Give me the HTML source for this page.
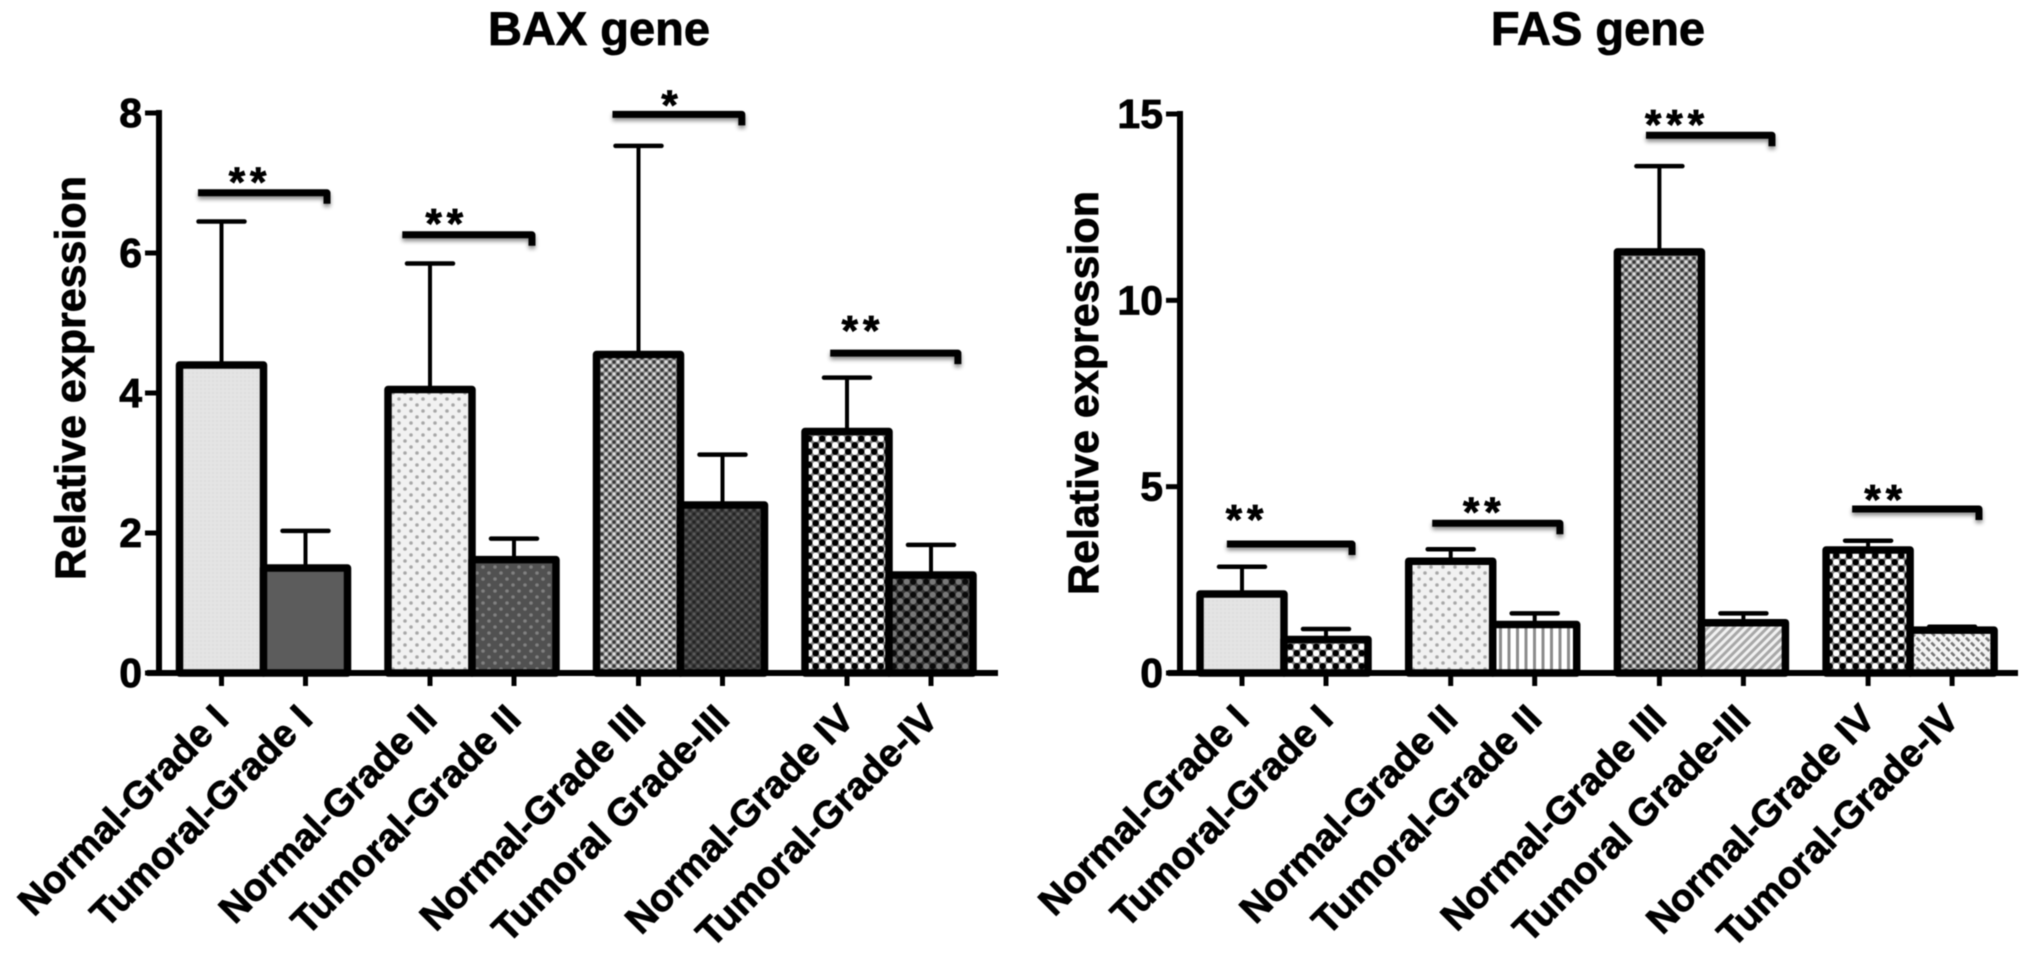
<!DOCTYPE html>
<html>
<head>
<meta charset="utf-8">
<title>BAX and FAS gene expression</title>
<style>
html,body{margin:0;padding:0;background:#fff;width:2031px;height:960px;overflow:hidden}
svg{display:block;filter:blur(0.6px)}
text{font-family:"Liberation Sans",sans-serif;font-weight:bold;fill:#000;stroke:#000;stroke-width:.8px}
.bracket{filter:drop-shadow(0 3px 2px rgba(0,0,0,.45))}
</style>
</head>
<body>
<svg id="figure" width="2031" height="960" viewBox="0 0 2031 960" xmlns="http://www.w3.org/2000/svg">
<defs>
<pattern id="p-plain-light" width="4" height="4" patternUnits="userSpaceOnUse"><rect width="4" height="4" fill="#e4e4e4"/><rect width="2" height="2" fill="#dedede"/></pattern>
<pattern id="p-plain-dark" width="4" height="4" patternUnits="userSpaceOnUse"><rect width="4" height="4" fill="#5c5c5c"/></pattern>
<pattern id="p-dots-light" width="12" height="12" patternUnits="userSpaceOnUse"><rect width="12" height="12" fill="#f1f1f1"/><circle cx="3" cy="3" r="1.8" fill="#a8a8a8"/><circle cx="9" cy="9" r="1.8" fill="#a8a8a8"/></pattern>
<pattern id="p-dots-dark" width="12" height="12" patternUnits="userSpaceOnUse"><rect width="12" height="12" fill="#515151"/><circle cx="3" cy="3" r="1.8" fill="#808080"/><circle cx="9" cy="9" r="1.8" fill="#808080"/></pattern>
<pattern id="p-check-mid" width="8" height="8" patternUnits="userSpaceOnUse"><rect width="8" height="8" fill="#8a8a8a"/><circle cx="2" cy="2" r="1.6" fill="#dcdcdc"/><circle cx="6" cy="6" r="1.6" fill="#dcdcdc"/><circle cx="6" cy="2" r="1.6" fill="#333"/><circle cx="2" cy="6" r="1.6" fill="#333"/></pattern>
<pattern id="p-check-dark" width="8" height="8" patternUnits="userSpaceOnUse"><rect width="8" height="8" fill="#3a3a3a"/><circle cx="2" cy="2" r="1.5" fill="#5a5a5a"/><circle cx="6" cy="6" r="1.5" fill="#5a5a5a"/><circle cx="6" cy="2" r="1.5" fill="#222"/><circle cx="2" cy="6" r="1.5" fill="#222"/></pattern>
<pattern id="p-check-coarse" width="13" height="13" patternUnits="userSpaceOnUse"><rect width="13" height="13" fill="#808080"/><circle cx="3.2" cy="3.2" r="3.2" fill="#fff"/><circle cx="9.7" cy="9.7" r="3.2" fill="#fff"/><circle cx="9.7" cy="3.2" r="3.2" fill="#000"/><circle cx="3.2" cy="9.7" r="3.2" fill="#000"/></pattern>
<pattern id="p-check-coarse-dark" width="13" height="13" patternUnits="userSpaceOnUse"><rect width="13" height="13" fill="#3a3a3a"/><circle cx="3.2" cy="3.2" r="3" fill="#787878"/><circle cx="9.7" cy="9.7" r="3" fill="#787878"/><circle cx="9.7" cy="3.2" r="3" fill="#0a0a0a"/><circle cx="3.2" cy="9.7" r="3" fill="#0a0a0a"/></pattern>
<pattern id="p-vstripes" width="8.5" height="8" patternUnits="userSpaceOnUse"><rect width="8.5" height="8" fill="#fff"/><rect x="3" width="3" height="8" fill="#8c8c8c"/></pattern>
<pattern id="p-diag" width="6" height="6" patternUnits="userSpaceOnUse" patternTransform="rotate(45)"><rect width="6" height="6" fill="#f0f0f0"/><rect width="3" height="6" fill="#a8a8a8"/></pattern>
<pattern id="p-diag-dash" width="7" height="7" patternUnits="userSpaceOnUse" patternTransform="rotate(-45)"><rect width="7" height="7" fill="#f4f4f4"/><rect width="2.6" height="5" fill="#777"/></pattern>
</defs>
<g id="chart-bax"></g>
<g id="chart-fas"></g>
</svg>
<script>
const categories = ['Normal-Grade I','Tumoral-Grade I','Normal-Grade II','Tumoral-Grade II','Normal-Grade III','Tumoral Grade-III','Normal-Grade IV','Tumoral-Grade-IV'];

const baxMeans = [4.4,1.5,4.05,1.62,4.55,2.4,3.45,1.4];
const baxErrorTops = [6.45,2.03,5.85,1.92,7.53,3.12,4.22,1.83];
const baxTicks = [0,2,4,6,8];
const baxSigLabels = ['**','**','*','**'];
const baxSigLevels = [6.86,6.26,7.98,4.57];
const baxSigStarLevels = [7.09,6.5,8.19,4.97];

const fasMeans = [2.12,0.9,3.0,1.3,11.3,1.35,3.3,1.15];
const fasErrorTops = [2.85,1.18,3.32,1.6,13.6,1.6,3.55,1.24];
const fasTicks = [0,5,10,15];
const fasSigLabels = ['**','**','***','**'];
const fasSigLevels = [3.46,4.02,14.43,4.4];
const fasSigStarLevels = [4.27,4.47,14.86,4.8];

const NS = 'http://www.w3.org/2000/svg';
function make(parent, tag, attrs, text){
  const el = document.createElementNS(NS, tag);
  for (const k in attrs) el.setAttribute(k, attrs[k]);
  if (text !== undefined) el.textContent = text;
  parent.appendChild(el);
  return el;
}

function drawChart(o){
  const root = document.getElementById(o.rootId);
  const y = v => o.y0 - v * (o.y0 - o.yTop) / o.yMax;
  const x = i => o.x0 + Math.floor(i / 2) * o.groupStep + (i % 2) * o.memberStep;
  const gx = (g, p) => o.x0 + g * o.groupStep + p * o.memberStep;

  const title = make(root, 'text', {x:o.titleX, y:45, 'text-anchor':'middle', 'font-size':o.titleSize}, o.title);
  
  

  const yTitle = make(root, 'text', {transform:`translate(${o.yTitleX},${o.yTitleY}) rotate(-90)`, 'text-anchor':'middle', 'font-size':43}, 'Relative expression');
  
  

  o.means.forEach((m, i) => {
    const cx = x(i);
    const vert = make(root, 'line', {x1:cx, x2:cx, y1:y(m), y2:y(o.errs[i]), stroke:'#000', 'stroke-width':4});
    
    
    const cap = make(root, 'line', {x1:cx-23, x2:cx+23, y1:y(o.errs[i]), y2:y(o.errs[i]), stroke:'#000', 'stroke-width':4.5, 'stroke-linecap':'round'});
    
    
  });

  o.means.forEach((m, i) => {
    const cx = x(i);
    const bar = make(root, 'rect', {x:cx-42, y:y(m), width:84, height:o.y0-y(m), fill:`url(#${o.fills[i]})`, stroke:'#000', 'stroke-width':7.5, 'stroke-linejoin':'round'});
    
    
    const tick = make(root, 'line', {x1:cx, x2:cx, y1:o.y0, y2:o.y0+13, stroke:'#000', 'stroke-width':5});
    
    
    const label = make(root, 'text', {transform:`translate(${cx+9},${o.y0+48}) rotate(-45)`, 'text-anchor':'end', 'font-size':38.5}, categories[i]);
    
    
  });

  const xAxis = make(root, 'line', {x1:o.axisX-12, x2:o.axisEnd, y1:o.y0, y2:o.y0, stroke:'#000', 'stroke-width':6});
  
  
  const yAxis = make(root, 'line', {x1:o.axisX, x2:o.axisX, y1:y(o.yMax)-3, y2:o.y0, stroke:'#000', 'stroke-width':6});
  
  

  o.ticks.forEach(t => {
    const tick = make(root, 'line', {x1:o.axisX-14, x2:o.axisX, y1:y(t), y2:y(t), stroke:'#000', 'stroke-width':5});
    
    
    const label = make(root, 'text', {x:o.axisX-17, y:y(t)+14, 'text-anchor':'end', 'font-size':41}, String(t));
    
    
  });

  o.sigLabels.forEach((s, g) => {
    const yb = y(o.sigLevels[g]);
    const x1 = gx(g, o.sigFrom[g]);
    const x2 = gx(g, o.sigTo[g]);
    const br = make(root, 'path', {d:`M${x1} ${yb}H${x2}V${yb+11}`, fill:'none', stroke:'#000', 'stroke-width':7, 'stroke-linejoin':'round', 'class':'bracket'});
    
    
    const st = make(root, 'text', {x:gx(g, o.sigStarAt[g]), y:y(o.sigStarLevels[g])+20, 'text-anchor':'middle', 'font-size':42, 'letter-spacing':5}, s);
    
    
  });
}

drawChart({
  rootId:'chart-bax', title:'BAX gene', titleX:599, titleSize:47,
  means:baxMeans, errs:baxErrorTops, ticks:baxTicks, yMax:8,
  sigLabels:baxSigLabels, sigLevels:baxSigLevels, sigStarLevels:baxSigStarLevels,
  sigFrom:[-0.28,-0.33,-0.31,-0.2], sigTo:[1.256,1.214,1.23,1.32], sigStarAt:[0.34,0.2,0.4,0.19],
  y0:673, yTop:113, axisX:159, axisEnd:998, x0:221.5, groupStep:208.5, memberStep:84,
  yTitleX:85, yTitleY:378,
  fills:['p-plain-light','p-plain-dark','p-dots-light','p-dots-dark','p-check-mid','p-check-dark','p-check-coarse','p-check-coarse-dark']
});

drawChart({
  rootId:'chart-fas', title:'FAS gene', titleX:1598, titleSize:47,
  means:fasMeans, errs:fasErrorTops, ticks:fasTicks, yMax:15,
  sigLabels:fasSigLabels, sigLevels:fasSigLevels, sigStarLevels:fasSigStarLevels,
  sigFrom:[-0.18,-0.22,-0.16,-0.19], sigTo:[1.31,1.3,1.34,1.32], sigStarAt:[0.06,0.4,0.21,0.21],
  y0:673, yTop:114, axisX:1180, axisEnd:2018, x0:1242, groupStep:208.7, memberStep:84,
  yTitleX:1098, yTitleY:393,
  fills:['p-plain-light','p-check-coarse','p-dots-light','p-vstripes','p-check-mid','p-diag','p-check-coarse','p-diag-dash']
});
</script>
</body>
</html>
